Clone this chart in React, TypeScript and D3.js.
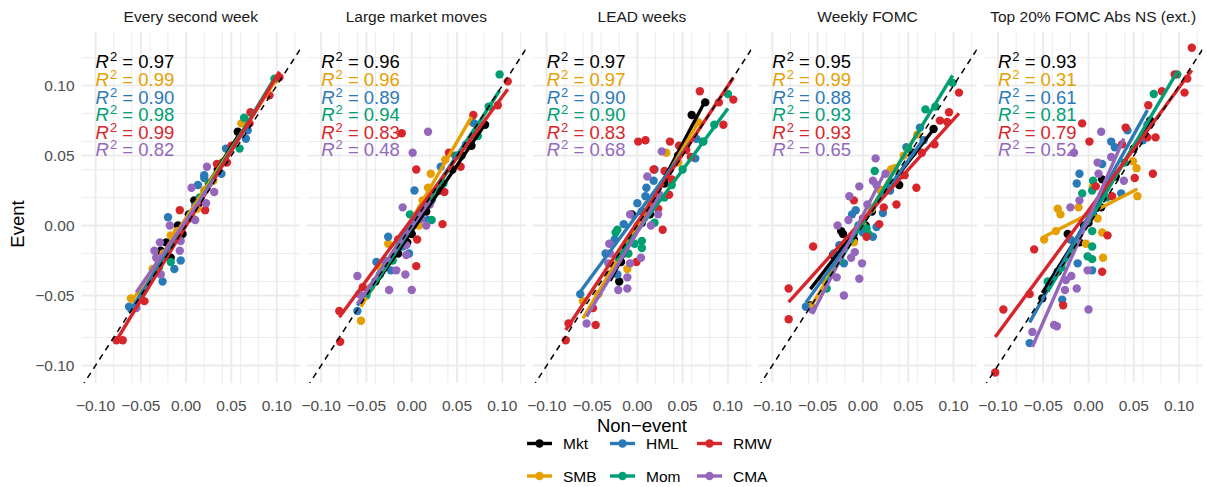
import { useEffect, useRef } from "react";
import * as d3 from "d3";

type Pt = [number, number];

const factors = ["Mkt", "SMB", "HML", "Mom", "RMW", "CMA"];
const colors = ["#000000", "#E69F00", "#2A7AB8", "#009E73", "#D7262B", "#9467BD"];
const panelTitles = [
  "Every second week",
  "Large market moves",
  "LEAD weeks",
  "Weekly FOMC",
  "Top 20% FOMC Abs NS (ext.)",
];
const majorTicks = [-0.1, -0.05, 0, 0.05, 0.1];

const r2Labels = [
  ["0.97", "0.99", "0.90", "0.98", "0.99", "0.82"],
  ["0.96", "0.96", "0.89", "0.94", "0.83", "0.48"],
  ["0.97", "0.97", "0.90", "0.90", "0.83", "0.68"],
  ["0.95", "0.99", "0.88", "0.93", "0.93", "0.65"],
  ["0.93", "0.31", "0.61", "0.81", "0.79", "0.52"],
];

// non-event (x) vs event (y) returns
const everySecondWeek: Record<string, Pt[]> = {
  Mkt: [[-0.028, -0.018], [-0.017, -0.023], [-0.009, 0.0], [-0.004, -0.006], [0.009, 0.018], [0.014, 0.016], [0.057, 0.067], [-0.022, -0.012], [0.003, 0.005], [-0.012, -0.009], [0.035, 0.04], [0.003, 0.008]],
  SMB: [[-0.061, -0.052], [-0.037, -0.031], [-0.017, -0.007], [0.006, 0.006], [0.042, 0.046], [0.061, 0.073], [0.02, 0.025], [-0.01, -0.004], [0.012, 0.012], [0.03, 0.032], [-0.025, -0.02], [0.098, 0.104]],
  HML: [[-0.063, -0.058], [-0.026, -0.04], [-0.013, -0.031], [-0.006, -0.025], [-0.02, 0.006], [0.013, 0.029], [0.02, 0.036], [0.039, 0.037], [0.044, 0.055], [0.066, 0.062], [0.068, 0.068], [0.02, 0.034], [0.01, 0.014]],
  Mom: [[-0.017, -0.026], [0.059, 0.055], [0.064, 0.077], [0.0975, 0.105], [0.005, 0.008], [-0.008, -0.01], [0.025, 0.03], [-0.03, -0.03], [-0.05, -0.048], [0.04, 0.045], [0.015, 0.02]],
  RMW: [[-0.077, -0.082], [-0.07, -0.082], [-0.046, -0.054], [-0.007, 0.011], [0.021, 0.011], [0.05, 0.057], [0.07, 0.073], [0.092, 0.093], [0.103, 0.106], [0.034, 0.044], [0.045, 0.045], [0.071, 0.081], [-0.01, -0.008]],
  CMA: [[0.023, 0.042], [0.031, 0.024], [0.006, 0.027], [-0.018, 0.0], [-0.006, -0.011], [-0.029, -0.012], [-0.007, -0.018], [-0.033, -0.023], [-0.028, -0.035], [-0.055, -0.059], [0.022, 0.016], [-0.035, -0.018], [0.01, 0.004]],
};

const largeMarketMoves: Record<string, Pt[]> = {
  Mkt: [[0.081, 0.072], [0.066, 0.057], [0.016, 0.01], [0.0, -0.006], [-0.015, -0.02], [0.045, 0.04], [0.03, 0.025], [-0.03, -0.03], [-0.005, -0.012], [0.01, 0.005], [-0.04, -0.04], [0.055, 0.05]],
  SMB: [[-0.056, -0.068], [-0.045, -0.044], [-0.026, -0.013], [0.008, 0.0], [0.018, 0.027], [0.021, 0.037], [0.037, 0.047], [0.066, 0.074], [-0.01, -0.01], [0.012, 0.018], [-0.035, -0.03], [0.003, 0.005]],
  HML: [[-0.06, -0.061], [-0.039, -0.026], [-0.026, -0.008], [-0.023, -0.032], [-0.003, -0.02], [0.003, 0.025], [0.018, 0.004], [0.022, 0.018], [0.032, 0.042], [0.048, 0.05], [0.069, 0.073], [-0.01, -0.015], [0.06, 0.058]],
  Mom: [[0.097, 0.108], [0.073, 0.064], [-0.002, 0.008], [0.022, 0.004], [-0.021, -0.025], [0.05, 0.05], [-0.035, -0.035], [0.01, 0.012], [-0.05, -0.05], [0.085, 0.085], [0.035, 0.03], [-0.01, -0.008]],
  RMW: [[0.106, 0.103], [0.095, 0.086], [0.068, 0.079], [0.054, 0.042], [0.041, 0.052], [0.005, 0.04], [-0.011, 0.066], [0.036, 0.024], [0.034, 0.001], [0.006, -0.01], [0.005, -0.029], [-0.054, -0.044], [-0.08, -0.061], [-0.079, -0.083], [-0.015, -0.01], [0.02, 0.02]],
  CMA: [[0.018, 0.067], [0.001, 0.052], [-0.01, 0.013], [0.016, 0.0], [-0.006, -0.014], [-0.006, -0.021], [-0.017, -0.032], [-0.007, -0.035], [-0.06, -0.036], [-0.025, -0.046], [0.0, -0.046], [-0.058, -0.049], [0.01, 0.005], [0.02, 0.015], [-0.03, -0.025]],
};

const leadWeeks: Record<string, Pt[]> = {
  Mkt: [[0.075, 0.088], [0.06, 0.079], [-0.006, 0.008], [0.014, 0.008], [-0.018, -0.026], [-0.02, -0.04], [0.005, 0.002], [0.03, 0.03], [0.045, 0.05], [-0.01, -0.012], [0.02, 0.018], [-0.03, -0.035]],
  SMB: [[0.067, 0.074], [0.032, 0.052], [-0.01, -0.02], [-0.011, -0.031], [-0.06, -0.054], [-0.043, -0.049], [0.0, 0.0], [0.015, 0.015], [0.045, 0.045], [-0.025, -0.028], [0.055, 0.06], [0.005, 0.01]],
  HML: [[0.065, 0.062], [0.064, 0.048], [0.054, 0.057], [0.019, 0.04], [0.018, 0.032], [0.01, 0.027], [0.009, 0.021], [0.0, 0.016], [-0.015, 0.001], [-0.022, -0.035], [-0.063, -0.049], [-0.025, -0.01], [0.005, 0.01], [-0.035, -0.02], [-0.015, -0.02]],
  Mom: [[0.1, 0.094], [0.073, 0.06], [0.072, 0.06], [0.038, 0.029], [0.019, 0.002], [-0.022, -0.003], [0.005, -0.011], [-0.003, -0.013], [-0.024, -0.005], [0.005, -0.016], [0.05, 0.04], [-0.01, -0.02], [0.085, 0.072], [0.03, 0.02]],
  RMW: [[0.069, 0.096], [0.09, 0.088], [0.106, 0.09], [0.095, 0.072], [0.001, 0.06], [0.009, 0.061], [0.036, 0.06], [0.046, 0.057], [0.054, 0.054], [0.059, 0.049], [0.018, 0.04], [0.03, 0.039], [0.038, 0.033], [0.035, 0.022], [0.023, 0.012], [0.028, -0.003], [-0.001, -0.026], [-0.049, -0.059], [-0.046, -0.071], [-0.076, -0.07], [-0.079, -0.082]],
  CMA: [[0.027, 0.053], [0.011, 0.035], [-0.008, 0.008], [0.023, 0.008], [-0.031, -0.013], [-0.008, -0.027], [0.004, -0.023], [-0.032, -0.027], [-0.011, -0.037], [-0.021, -0.046], [-0.011, -0.045], [-0.056, -0.07], [-0.03, -0.02], [0.015, 0.0]],
};

const weeklyFomc: Record<string, Pt[]> = {
  Mkt: [[0.078, 0.069], [0.04, 0.029], [-0.004, -0.001], [-0.024, -0.004], [-0.022, -0.006], [-0.033, -0.021], [-0.058, -0.057], [0.01, 0.01], [0.02, 0.025], [0.055, 0.052], [-0.01, -0.01], [0.003, 0.0]],
  SMB: [[0.035, 0.041], [0.031, 0.04], [-0.044, -0.039], [0.06, 0.065], [0.01, 0.012], [-0.01, -0.012], [-0.025, -0.025], [0.02, 0.025], [0.0, 0.0], [-0.058, -0.058], [0.045, 0.05], [-0.035, -0.035]],
  HML: [[0.063, 0.07], [0.067, 0.061], [0.048, 0.056], [0.022, 0.009], [0.015, -0.001], [0.011, -0.008], [-0.012, 0.008], [-0.026, -0.014], [-0.021, -0.027], [-0.063, -0.058], [-0.032, -0.02], [0.03, 0.025], [0.0, -0.005], [-0.008, 0.011]],
  Mom: [[0.099, 0.102], [0.069, 0.083], [0.013, 0.039], [0.004, -0.002], [0.006, -0.006], [-0.04, -0.045], [0.03, 0.03], [0.05, 0.055], [-0.015, -0.01], [-0.025, -0.025], [-0.005, 0.0], [0.08, 0.085]],
  RMW: [[0.106, 0.095], [0.095, 0.081], [0.093, 0.074], [0.079, 0.058], [0.065, 0.052], [0.059, 0.027], [0.046, 0.036], [0.037, 0.015], [0.023, 0.013], [0.018, 0.001], [0.004, -0.008], [-0.055, -0.015], [-0.082, -0.045], [-0.082, -0.067], [0.085, 0.075], [-0.01, 0.018], [0.0, 0.005]],
  CMA: [[0.014, 0.048], [0.025, 0.037], [-0.004, 0.028], [-0.015, 0.021], [0.015, 0.029], [-0.028, 0.0], [-0.016, 0.004], [-0.009, -0.019], [-0.013, -0.023], [-0.001, -0.027], [-0.004, -0.038], [-0.029, -0.037], [-0.021, -0.05], [-0.056, -0.06], [0.005, 0.015], [0.011, 0.032]],
};

const topFomcAbsNs: Record<string, Pt[]> = {
  Mkt: [[0.015, 0.033], [0.014, 0.013], [-0.023, -0.006], [-0.034, -0.033], [-0.051, -0.052], [0.0, 0.002], [0.005, 0.008], [-0.01, -0.012], [0.03, 0.035], [0.05, 0.055], [0.068, 0.075], [-0.005, 0.0]],
  SMB: [[0.049, 0.046], [0.053, 0.041], [0.054, 0.021], [-0.011, 0.013], [-0.034, 0.012], [-0.031, 0.008], [-0.036, -0.004], [-0.049, -0.01], [0.015, -0.005], [-0.003, -0.013], [0.016, -0.023], [0.005, 0.028], [0.01, 0.005]],
  HML: [[0.043, 0.068], [0.025, 0.06], [0.029, 0.056], [0.015, 0.044], [-0.01, 0.037], [-0.013, 0.03], [0.036, 0.023], [-0.012, -0.027], [0.004, -0.032], [-0.029, -0.053], [-0.065, -0.084], [0.06, 0.061], [0.065, 0.072], [0.005, 0.01], [-0.02, -0.01]],
  Mom: [[0.072, 0.094], [0.004, 0.025], [-0.007, 0.023], [0.004, -0.004], [0.004, -0.015], [-0.001, -0.022], [0.004, -0.024], [0.005, 0.032], [0.01, 0.015], [0.098, 0.108], [0.04, 0.045], [-0.03, -0.03], [0.02, 0.02], [-0.045, -0.04]],
  RMW: [[0.114, 0.127], [0.095, 0.108], [0.109, 0.105], [0.106, 0.095], [0.081, 0.096], [0.066, 0.086], [-0.007, 0.073], [0.001, 0.06], [0.041, 0.07], [0.037, 0.058], [0.065, 0.063], [0.074, 0.063], [0.051, 0.034], [0.071, 0.037], [0.026, 0.021], [0.008, 0.028], [0.021, -0.007], [0.015, -0.033], [-0.028, -0.057], [-0.065, -0.049], [-0.06, -0.017], [-0.094, -0.06], [-0.103, -0.105]],
  CMA: [[0.014, 0.067], [-0.016, 0.052], [0.01, 0.045], [0.011, 0.037], [0.025, 0.049], [0.039, 0.032], [-0.01, 0.018], [-0.02, 0.013], [-0.001, -0.032], [-0.019, -0.036], [-0.025, -0.039], [-0.013, -0.045], [-0.026, -0.046], [0.0, -0.06], [-0.038, -0.071], [-0.035, -0.072], [-0.062, -0.076]],
};

const panelData = [everySecondWeek, largeMarketMoves, leadWeeks, weeklyFomc, topFomcAbsNs];

const FONT = "'Liberation Sans', Arial, Helvetica, sans-serif";

function fit(pts: Pt[]) {
  const mx = d3.mean(pts, (d) => d[0]) as number;
  const my = d3.mean(pts, (d) => d[1]) as number;
  let sxy = 0;
  let sxx = 0;
  pts.forEach(([a, b]) => {
    sxy += (a - mx) * (b - my);
    sxx += (a - mx) * (a - mx);
  });
  const slope = sxy / sxx;
  const [x0, x1] = d3.extent(pts, (d) => d[0]) as [number, number];
  return [
    [x0, my + slope * (x0 - mx)],
    [x1, my + slope * (x1 - mx)],
  ] as Pt[];
}

function drawChart(el: SVGSVGElement) {
  const svg = d3.select(el);
  svg.selectAll("*").remove();

  const panelLeft = 81.5;
  const panelW = 218.5;
  const gap = 7.1;
  const top = 32;
  const bottom = 383;

  const x = d3.scaleLinear().domain([-0.1155, 0.1257]).range([0, panelW]);
  const y = d3.scaleLinear().domain([-0.1125, 0.1383]).range([bottom, top]);
  const fmt = d3.format(".2f");
  const minorX = x.ticks(10).filter((t) => !majorTicks.some((m) => Math.abs(m - t) < 1e-9));
  const minorY = y.ticks(10).filter((t) => !majorTicks.some((m) => Math.abs(m - t) < 1e-9));

  svg.append("rect").attr("width", 1207).attr("height", 487).attr("fill", "white");

  const line = d3
    .line<Pt>()
    .x((d) => x(d[0]))
    .y((d) => y(d[1]));

  panelData.forEach((data, i) => {
    const g = svg.append("g").attr("transform", `translate(${panelLeft + i * (panelW + gap)},0)`);

    g.append("clipPath")
      .attr("id", `clip${i}`)
      .append("rect")
      .attr("x", 0)
      .attr("y", top)
      .attr("width", panelW)
      .attr("height", bottom - top);

    // grid
    const grid = g.append("g").attr("stroke", "#EBEBEB");
    minorX.forEach((t) =>
      grid.append("line").attr("x1", x(t)).attr("x2", x(t)).attr("y1", top).attr("y2", bottom).attr("stroke-width", 0.95)
    );
    minorY.forEach((t) =>
      grid.append("line").attr("x1", 0).attr("x2", panelW).attr("y1", y(t)).attr("y2", y(t)).attr("stroke-width", 0.95)
    );
    majorTicks.forEach((t) => {
      grid.append("line").attr("x1", x(t)).attr("x2", x(t)).attr("y1", top).attr("y2", bottom).attr("stroke-width", 1.9);
      grid.append("line").attr("x1", 0).attr("x2", panelW).attr("y1", y(t)).attr("y2", y(t)).attr("stroke-width", 1.9);
    });

    const plot = g.append("g").attr("clip-path", `url(#clip${i})`);

    factors.forEach((f, k) => {
      plot
        .append("g")
        .selectAll("circle")
        .data(data[f])
        .join("circle")
        .attr("cx", (d) => x(d[0]))
        .attr("cy", (d) => y(d[1]))
        .attr("r", 4.2)
        .attr("fill", colors[k]);
    });

    factors.forEach((f, k) => {
      plot
        .append("path")
        .datum(fit(data[f]))
        .attr("fill", "none")
        .attr("stroke", colors[k])
        .attr("stroke-width", 3.4)
        .attr("d", line);
    });

    plot
      .append("path")
      .datum(x.domain().map((v) => [v, v] as Pt))
      .attr("fill", "none")
      .attr("stroke", "black")
      .attr("stroke-width", 1.5)
      .attr("stroke-dasharray", "6,5")
      .attr("d", line);

    // R^2 labels
    factors.forEach((f, k) => {
      const t = g
        .append("text")
        .attr("x", x(-0.1))
        .attr("y", y(0.1124 - 0.0126 * k))
        .attr("fill", colors[k])
        .attr("font-family", FONT)
        .attr("font-size", 18.5);
      t.append("tspan").attr("font-style", "italic").text("R");
      t.append("tspan").attr("font-size", 13).attr("dy", -7).attr("dx", 1).text("2");
      t.append("tspan").attr("dy", 7).text(` = ${r2Labels[i][k]}`);
    });

    // strip title
    g.append("text")
      .attr("x", panelW / 2)
      .attr("y", 21.5)
      .attr("text-anchor", "middle")
      .attr("font-family", FONT)
      .attr("font-size", 15.5)
      .attr("fill", "#1A1A1A")
      .text(panelTitles[i]);

    // x tick labels
    majorTicks.forEach((t) =>
      g
        .append("text")
        .attr("x", x(t))
        .attr("y", 411)
        .attr("text-anchor", "middle")
        .attr("font-family", FONT)
        .attr("font-size", 15.5)
        .attr("fill", "#4D4D4D")
        .text(fmt(t))
    );

    if (i === 0) {
      majorTicks.forEach((t) =>
        g
          .append("text")
          .attr("x", -7)
          .attr("y", y(t) + 5.5)
          .attr("text-anchor", "end")
          .attr("font-family", FONT)
          .attr("font-size", 15.5)
          .attr("fill", "#4D4D4D")
          .text(fmt(t))
      );
    }
  });

  // axis titles
  const plotRight = panelLeft + 5 * panelW + 4 * gap;
  svg
    .append("text")
    .attr("x", (panelLeft + plotRight) / 2)
    .attr("y", 432)
    .attr("text-anchor", "middle")
    .attr("font-family", FONT)
    .attr("font-size", 18.5)
    .attr("fill", "black")
    .text("Non\u2212event");

  svg
    .append("text")
    .attr("transform", `translate(24,224) rotate(-90)`)
    .attr("text-anchor", "middle")
    .attr("font-family", FONT)
    .attr("font-size", 18.5)
    .attr("fill", "black")
    .text("Event");

  // legend, filled by column
  const colX = [527, 610, 697];
  const rowY = [443.5, 476];
  factors.forEach((f, k) => {
    const cx = colX[Math.floor(k / 2)];
    const cy = rowY[k % 2];
    const lg = svg.append("g");
    lg.append("line")
      .attr("x1", cx)
      .attr("x2", cx + 25)
      .attr("y1", cy)
      .attr("y2", cy)
      .attr("stroke", colors[k])
      .attr("stroke-width", 3.4);
    lg.append("circle").attr("cx", cx + 12.5).attr("cy", cy).attr("r", 4.2).attr("fill", colors[k]);
    lg.append("text")
      .attr("x", cx + 36)
      .attr("y", cy + 5.5)
      .attr("font-family", FONT)
      .attr("font-size", 15.5)
      .attr("fill", "black")
      .text(f);
  });
}

export default function App() {
  const ref = useRef<SVGSVGElement>(null);

  useEffect(() => {
    if (ref.current) drawChart(ref.current);
  }, []);

  return (
    <svg
      ref={ref}
      width={1207}
      height={487}
      style={{ position: "fixed", left: 0, top: 0, display: "block" }}
    />
  );
}
